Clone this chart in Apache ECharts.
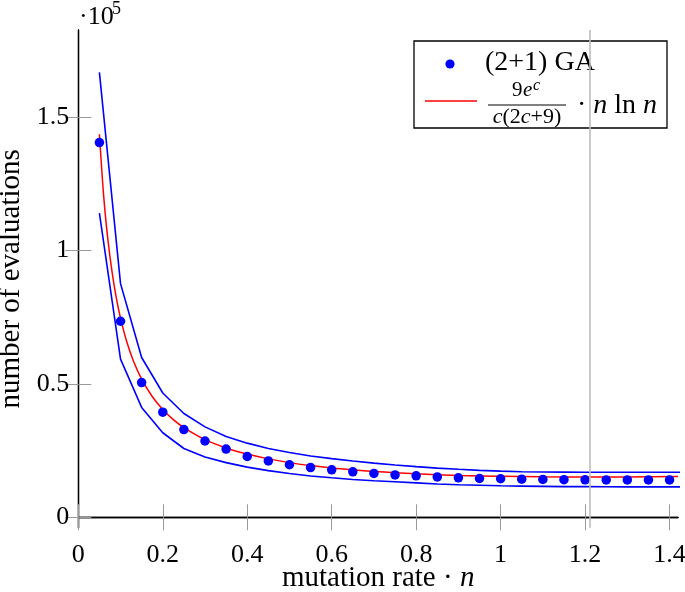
<!DOCTYPE html>
<html>
<head>
<meta charset="utf-8">
<script src="https://cdn.jsdelivr.net/npm/echarts@6/dist/echarts.min.js"></script>
<style>
html,body{margin:0;padding:0;background:#fff;}
#chart{width:685px;height:592px;}
</style>
</head>
<body>
<div id="chart"></div>
<script>
// mutation rate · n (x) for the (2+1) GA measurements
var rates = [0.05,0.10,0.15,0.20,0.25,0.30,0.35,0.40,0.45,0.50,0.55,0.60,0.65,0.70,0.75,0.80,0.85,0.90,0.95,1.00,1.05,1.10,1.15,1.20,1.25,1.30,1.35,1.40];
// mean number of evaluations
var gaMean = [140500,73500,50500,39400,32900,28600,25600,22800,21150,19700,18650,17800,17050,16450,15900,15550,15150,14800,14550,14450,14300,14200,14100,14050,14000,14000,14000,14000];
// upper and lower band
var bandX = [0.05,0.10,0.15,0.20,0.25,0.30,0.35,0.40,0.45,0.50,0.55,0.60,0.65,0.70,0.75,0.80,0.85,0.90,0.95,1.00,1.05,1.10,1.15,1.20,1.25,1.30,1.35,1.40,1.45];
var upper = [166800,87600,59900,46600,38900,33900,30300,27800,25800,24300,23000,22000,21100,20300,19600,19000,18450,18000,17600,17300,17100,17000,16950,16900,16900,16900,16900,16900,16900];
var lower = [114000,59300,41200,31700,25800,22600,20500,18800,17500,16400,15500,14800,14200,13700,13300,12900,12500,12200,12000,11800,11700,11600,11500,11500,11450,11400,11400,11400,11400];
// fitted curve 9e^c/(c(2c+9)) * n ln n, values read at these rates
var fitX = [0.05,0.06,0.07,0.08,0.09,0.10,0.115,0.13,0.15,0.175,0.20,0.225,0.25,0.30,0.35,0.40,0.45,0.50,0.55,0.60,0.65,0.70,0.75,0.80,0.90,1.00,1.10,1.20,1.30,1.42];
var fitY = [143600,120600,104200,91900,82300,74700,65700,58800,51800,45300,40400,36600,33600,29100,26000,23700,21900,20500,19400,18500,17800,17200,16700,16300,15700,15400,15200,15100,15100,15300];
var xTicks = [0,0.2,0.4,0.6,0.8,1,1.2,1.4];
var yTicks = [0,50000,100000,150000];
var markerX = 1.21;

function pairs(xs, ys){ return xs.map(function(x,i){return [x, ys[i]];}); }

var FONT = 'Liberation Serif';
var chart = echarts.init(document.getElementById('chart'));
var xMin = 0, xMax = 1.42, yMin = -3900, yMax = 182700;
var tickStyle = {show:true, inside:true, length:13, lineStyle:{color:'#9a9a9a', width:1}};
var lineAxis = {show:true, lineStyle:{color:'#000', width:1.3}};

chart.setOption({
  animation:false,
  backgroundColor:'#fff',
  grid:{left:78.3, right:7, top:30, bottom:64.3, containLabel:false, outerBoundsMode:'none'},
  xAxis:[{
    type:'value', min:xMin, max:xMax, position:'bottom',
    axisLine:lineAxis,
    axisTick:Object.assign({customValues:xTicks}, tickStyle),
    axisLabel:{customValues:xTicks, fontFamily:FONT, fontSize:26, color:'#000', margin:14,
      formatter:function(v){return String(+v.toFixed(1));}},
    splitLine:{show:false},
    name:'{r|mutation rate · }{i|n}', nameLocation:'middle', nameGap:36, nameMoveOverlap:false,
    nameTextStyle:{rich:{r:{fontFamily:FONT, fontSize:29, color:'#000'}, i:{fontFamily:FONT, fontSize:29, fontStyle:'italic', color:'#000'}}}
  },{
    type:'value', min:xMin, max:xMax, position:'top',
    axisLine:lineAxis,
    axisTick:Object.assign({customValues:xTicks}, tickStyle),
    axisLabel:{show:false}, splitLine:{show:false}
  }],
  yAxis:[{
    type:'value', min:yMin, max:yMax, position:'left',
    axisLine:lineAxis,
    axisTick:Object.assign({customValues:yTicks}, tickStyle),
    axisLabel:{customValues:yTicks, fontFamily:FONT, fontSize:26, color:'#000', margin:9,
      formatter:function(v){return String(v/100000);}},
    splitLine:{show:false},
    name:'number of evaluations', nameLocation:'middle', nameGap:48, nameRotate:90,
    nameTextStyle:{fontFamily:FONT, fontSize:29, color:'#000'}
  },{
    type:'value', min:yMin, max:yMax, position:'right',
    axisLine:lineAxis,
    axisTick:Object.assign({customValues:yTicks}, tickStyle),
    axisLabel:{show:false}, splitLine:{show:false}
  }],
  series:[
    {type:'line', name:'upper', data:pairs(bandX, upper), showSymbol:false, symbol:'none',
      lineStyle:{color:'#0000ff', width:1.6}, clip:true, z:2,
      markLine:{silent:true, symbol:'none', label:{show:false},
        lineStyle:{color:'#bdbdbd', width:1.6, type:'solid'}, data:[{xAxis:markerX}]}},
    {type:'line', name:'lower', data:pairs(bandX, lower), showSymbol:false, symbol:'none',
      lineStyle:{color:'#0000ff', width:1.6}, clip:true, z:2},
    {type:'line', name:'fit', data:pairs(fitX, fitY), showSymbol:false, symbol:'none', smooth:0.3,
      lineStyle:{color:'#ff0000', width:1.5}, clip:true, z:3},
    {type:'scatter', name:'(2+1) GA', data:pairs(rates, gaMean), symbol:'circle', symbolSize:9.5,
      itemStyle:{color:'#0000ff', opacity:1}, z:4}
  ],
  graphic:[
    {type:'text', left:79, top:4, style:{text:'·10', font:'26px "Liberation Serif"', fill:'#000'}},
    {type:'text', left:112, top:0, style:{text:'5', font:'18px "Liberation Serif"', fill:'#000'}},
    {type:'group', z:100, children:[
      {type:'rect', shape:{x:414, y:41, width:253, height:87}, style:{fill:'#fff', stroke:'#000', lineWidth:1.3}},
      {type:'circle', shape:{cx:450, cy:64, r:4.6}, style:{fill:'#0000ff'}},
      {type:'text', x:485, y:63, style:{text:'(2+1) GA', font:'28px "Liberation Serif"', fill:'#000', verticalAlign:'middle'}},
      {type:'line', shape:{x1:425, y1:101, x2:477, y2:101}, style:{stroke:'#ff0000', lineWidth:1.5}},
      {type:'text', x:512, y:101, style:{text:'9', font:'21px "Liberation Serif"', fill:'#000', verticalAlign:'bottom'}},
      {type:'text', x:523, y:101, style:{text:'e', font:'italic 21px "Liberation Serif"', fill:'#000', verticalAlign:'bottom'}},
      {type:'text', x:533, y:94, style:{text:'c', font:'italic 16px "Liberation Serif"', fill:'#000', verticalAlign:'bottom'}},
      {type:'line', shape:{x1:488, y1:105, x2:566, y2:105}, style:{stroke:'#000', lineWidth:1}},
      {type:'text', x:527, y:106, style:{text:'{i|c}{r|(2}{i|c}{r|+9)}', font:'22px "Liberation Serif"', fill:'#000', align:'center', verticalAlign:'top',
        rich:{i:{font:'italic 22px "Liberation Serif"', fill:'#000'}, r:{font:'22px "Liberation Serif"', fill:'#000'}}}},
      {type:'text', x:577, y:106, style:{text:'{r|· }{i|n }{r|ln }{i|n}', verticalAlign:'middle',
        rich:{i:{font:'italic 28px "Liberation Serif"', fill:'#000'}, r:{font:'28px "Liberation Serif"', fill:'#000'}}}}
    ]}
  ]
});
</script>
</body>
</html>
